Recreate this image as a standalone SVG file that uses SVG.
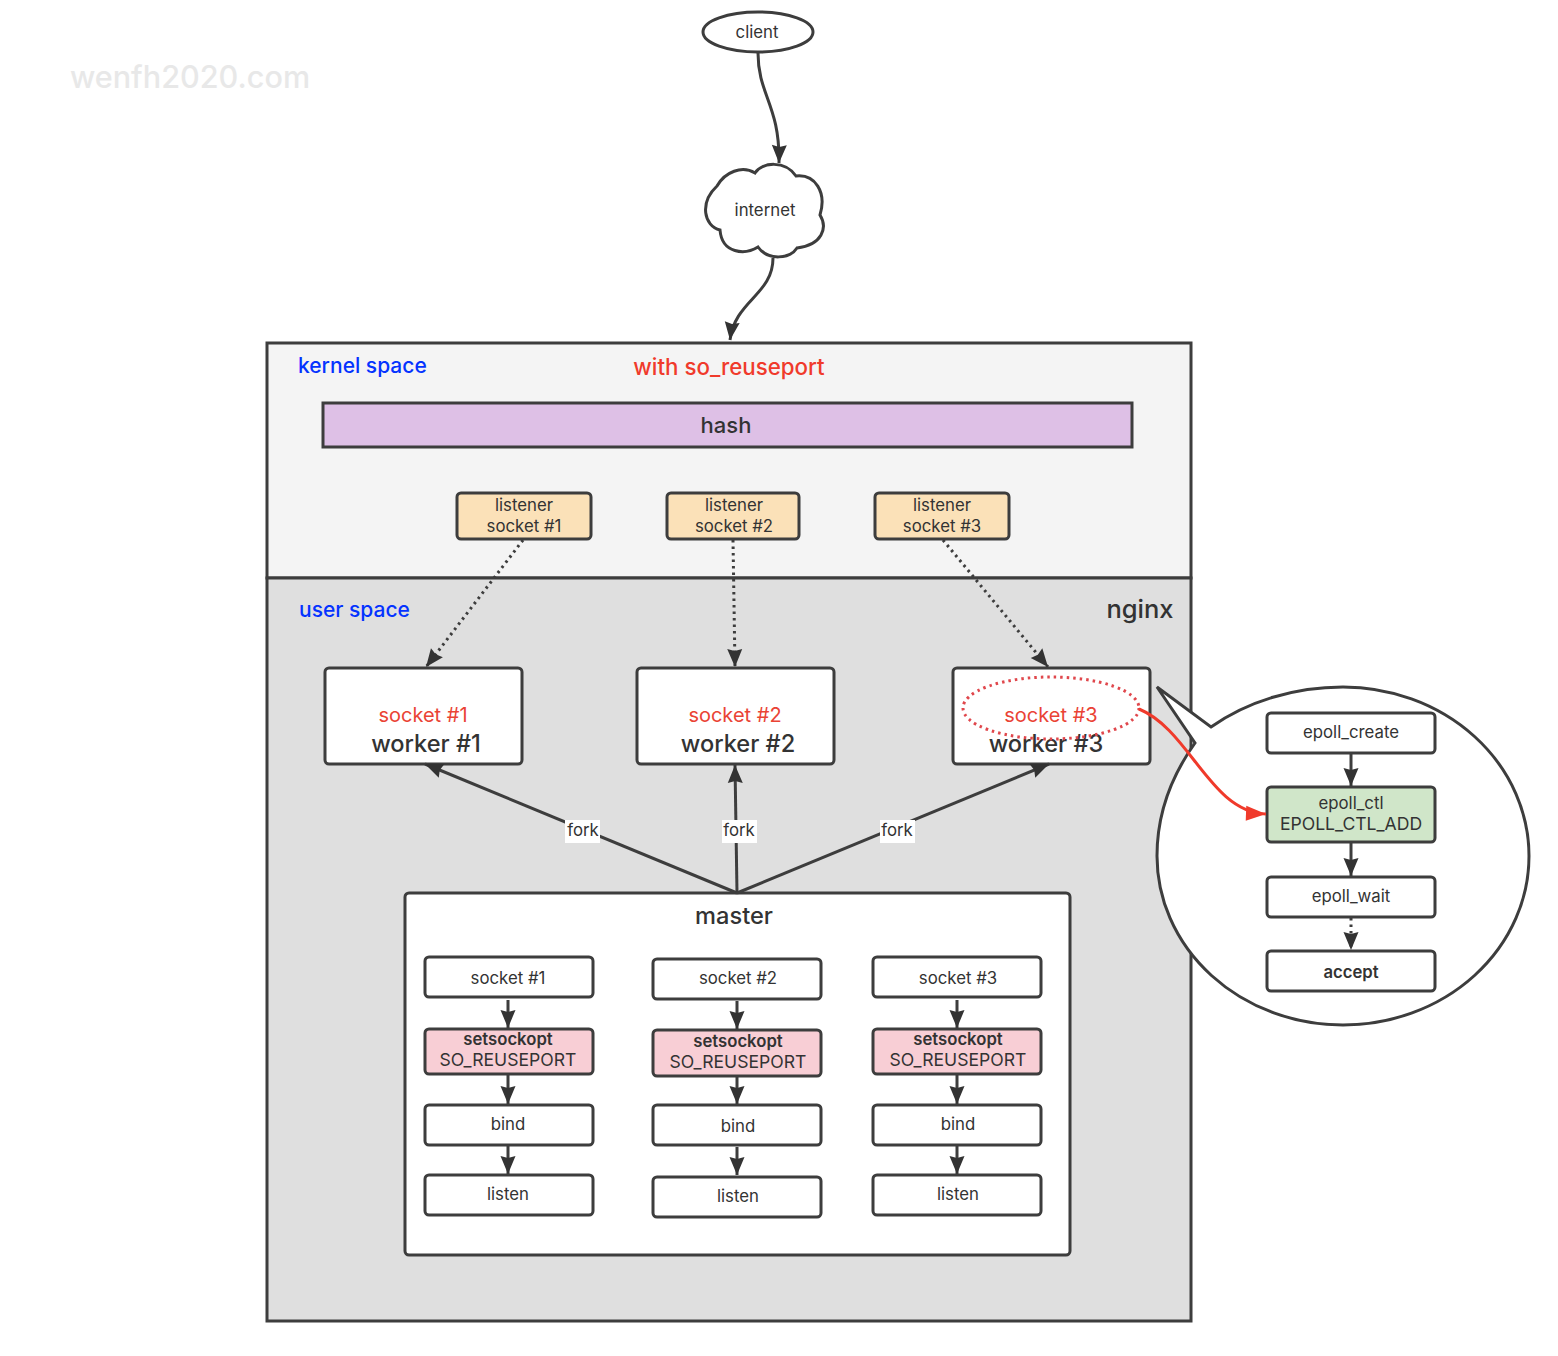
<svg xmlns="http://www.w3.org/2000/svg" width="1558" height="1356" viewBox="0 0 1558 1356">
<style>
text{font-family:"Inter","Liberation Sans",Arial,sans-serif;fill:#333;text-anchor:middle}
.n{fill:#fff;stroke:#3d3d3d;stroke-width:3}
.t{font-size:16.8px}
.p{fill:#f8ced5;stroke:#3d3d3d;stroke-width:3}
.y{fill:#fbe1b8;stroke:#3d3d3d;stroke-width:3}
.l{fill:none;stroke:#3d3d3d;stroke-width:3}
.d{fill:none;stroke:#3d3d3d;stroke-width:3;stroke-dasharray:2.5 4}
.blue{fill:#0433ff;font-size:21px;font-weight:500;text-anchor:start}
.wk{font-size:23.6px;font-weight:500}
.sm{font-size:16.7px;font-weight:600}
.so{font-size:17.6px}
.rs{font-size:20px;fill:#ea4335}
</style>
<defs>
<marker id="a" markerUnits="userSpaceOnUse" markerWidth="20" markerHeight="18" refX="18" refY="7.5" orient="auto" overflow="visible"><path d="M0 0L18 7.5L0 15L2 7.5Z" fill="#333" stroke="none"/></marker>
<marker id="ar" markerUnits="userSpaceOnUse" markerWidth="22" markerHeight="18" refX="20" refY="7.5" orient="auto" overflow="visible"><path d="M0 0L20 7.5L0 15Z" fill="#f03a2b" stroke="none"/></marker>
</defs>
<text x="190" y="88" style="font-size:30.6px;font-weight:500;fill:#e8e8e8">wenfh2020.com</text>

<g id="kernel"><rect x="267" y="343" width="924" height="235" fill="#f4f4f4" stroke="#3d3d3d" stroke-width="3"/>
<text x="298" y="373" class="blue">kernel space</text>
<text x="729" y="375" style="font-size:22.3px;font-weight:500;fill:#f03a2b">with so_reuseport</text></g>
<g id="user"><rect x="267" y="578" width="924" height="743" fill="#dfdfdf" stroke="#3d3d3d" stroke-width="3"/>
<text x="299" y="617" class="blue">user space</text>
<text x="1140" y="618" style="font-size:25.5px;font-weight:500">nginx</text></g>

<g id="client"><ellipse cx="758" cy="32" rx="55" ry="20" class="n"/><text x="757" y="38" class="t">client</text></g>
<g id="internet"><path class="n" d="M717 186C725 172 742 165 755 173C762 162 785 160 796 176C815 174 827 192 820 215C828 228 822 245 797 248C790 259 768 261 758 247C745 255 722 254 720 230C704 226 699 203 717 186Z"/><text x="765" y="216" class="t">internet</text></g>
<g id="hash"><rect x="323" y="403" width="809" height="44" fill="#dec0e6" stroke="#3d3d3d" stroke-width="3"/><text x="726" y="433" style="font-size:22px;font-weight:500">hash</text></g>

<g id="ls1"><rect x="457" y="493" width="134" height="46" rx="4" class="y"/><text x="524" y="511" class="t">listener</text><text x="524" y="532" class="t">socket #1</text></g>
<g id="ls2"><rect x="667" y="493" width="132" height="46" rx="4" class="y"/><text x="734" y="511" class="t">listener</text><text x="734" y="532" class="t">socket #2</text></g>
<g id="ls3"><rect x="875" y="493" width="134" height="46" rx="4" class="y"/><text x="942" y="511" class="t">listener</text><text x="942" y="532" class="t">socket #3</text></g>

<g id="worker1"><rect x="325" y="668" width="197" height="96" rx="4" class="n"/><text x="423" y="722" class="rs">socket #1</text><text x="426" y="752" class="wk">worker #1</text></g>
<g id="worker2"><rect x="637" y="668" width="197" height="96" rx="4" class="n"/><text x="735" y="722" class="rs">socket #2</text><text x="738" y="752" class="wk">worker #2</text></g>
<g id="worker3"><rect x="953" y="668" width="197" height="96" rx="4" class="n"/><text x="1051" y="722" class="rs">socket #3</text><text x="1046" y="752" class="wk">worker #3</text><ellipse cx="1051" cy="708" rx="88" ry="31" fill="none" stroke="#e0474c" stroke-width="3" stroke-dasharray="2.5 4"/></g>

<g id="master"><rect x="405" y="893" width="665" height="362" rx="4" class="n"/><text x="734" y="924" class="wk">master</text></g>

<g id="m1">
<rect x="425" y="957" width="168" height="40" rx="4" class="n"/><text x="508" y="984" class="t">socket #1</text>
<rect x="425" y="1029" width="168" height="45" rx="4" class="p"/><text x="508" y="1045" class="sm">setsockopt</text><text x="508" y="1066" class="so">SO_REUSEPORT</text>
<rect x="425" y="1105" width="168" height="40" rx="4" class="n"/><text x="508" y="1130" class="t">bind</text>
<rect x="425" y="1175" width="168" height="40" rx="4" class="n"/><text x="508" y="1200" class="t">listen</text></g>
<g id="m2">
<rect x="653" y="959" width="168" height="40" rx="4" class="n"/><text x="738" y="984" class="t">socket #2</text>
<rect x="653" y="1030" width="168" height="46" rx="4" class="p"/><text x="738" y="1047" class="sm">setsockopt</text><text x="738" y="1068" class="so">SO_REUSEPORT</text>
<rect x="653" y="1105" width="168" height="40" rx="4" class="n"/><text x="738" y="1132" class="t">bind</text>
<rect x="653" y="1177" width="168" height="40" rx="4" class="n"/><text x="738" y="1202" class="t">listen</text></g>
<g id="m3">
<rect x="873" y="957" width="168" height="40" rx="4" class="n"/><text x="958" y="984" class="t">socket #3</text>
<rect x="873" y="1029" width="168" height="45" rx="4" class="p"/><text x="958" y="1045" class="sm">setsockopt</text><text x="958" y="1066" class="so">SO_REUSEPORT</text>
<rect x="873" y="1105" width="168" height="40" rx="4" class="n"/><text x="958" y="1130" class="t">bind</text>
<rect x="873" y="1175" width="168" height="40" rx="4" class="n"/><text x="958" y="1200" class="t">listen</text></g>

<g id="callout"><path class="n" d="M1157 687L1211 727C1248 701 1295 687 1343 687A186 169 0 0 1 1529 856A186 169 0 0 1 1343 1025A186 169 0 0 1 1157 856C1157 815 1170 778 1195 743Z"/></g>
<g id="e1"><rect x="1267" y="713" width="168" height="40" rx="4" class="n"/><text x="1351" y="738" class="t">epoll_create</text></g>
<g id="e2"><rect x="1267" y="787" width="168" height="55" rx="4" fill="#d0e6c9" stroke="#3d3d3d" stroke-width="3"/><text x="1351" y="809" class="t">epoll_ctl</text><text x="1351" y="830" class="so">EPOLL_CTL_ADD</text></g>
<g id="e3"><rect x="1267" y="877" width="168" height="40" rx="4" class="n"/><text x="1351" y="902" class="t">epoll_wait</text></g>
<g id="e4"><rect x="1267" y="951" width="168" height="40" rx="4" class="n"/><text x="1351" y="978" class="sm">accept</text></g>

<g id="connectors">
<path class="l" marker-end="url(#a)" d="M758 53C758 95 780 105 779 163"/>
<path class="l" marker-end="url(#a)" d="M773 258C773 295 735 300 730 340"/>
<path class="d" marker-end="url(#a)" d="M523 540L426 667"/>
<path class="d" marker-end="url(#a)" d="M733 540L735 667"/>
<path class="d" marker-end="url(#a)" d="M943 540L1048 667"/>
<path class="l" marker-end="url(#a)" d="M737 893L425 764"/>
<path class="l" marker-end="url(#a)" d="M737 893L735 765"/>
<path class="l" marker-end="url(#a)" d="M737 893L1049 764"/>
<g><path class="l" marker-end="url(#a)" d="M508 1000V1028"/><path class="l" marker-end="url(#a)" d="M508 1075V1104"/><path class="l" marker-end="url(#a)" d="M508 1146V1174"/>
<path class="l" marker-end="url(#a)" d="M737 1001V1029"/><path class="l" marker-end="url(#a)" d="M737 1077V1104"/><path class="l" marker-end="url(#a)" d="M737 1147V1175"/>
<path class="l" marker-end="url(#a)" d="M957 1000V1028"/><path class="l" marker-end="url(#a)" d="M957 1075V1104"/><path class="l" marker-end="url(#a)" d="M957 1146V1174"/>
<path class="l" marker-end="url(#a)" d="M1351 754V786"/><path class="l" marker-end="url(#a)" d="M1351 843V876"/><path class="d" marker-end="url(#a)" d="M1351 918V950"/></g>
<path fill="none" stroke="#f03a2b" stroke-width="3" marker-end="url(#ar)" d="M1139 709C1190 730 1210 812 1266 814"/>
<g><rect x="565" y="820" width="35" height="23" fill="#fff"/><text x="583" y="836" class="t">fork</text>
<rect x="722" y="820" width="35" height="23" fill="#fff"/><text x="739" y="836" class="t">fork</text>
<rect x="880" y="820" width="35" height="23" fill="#fff"/><text x="897" y="836" class="t">fork</text></g>
</g>
</svg>
